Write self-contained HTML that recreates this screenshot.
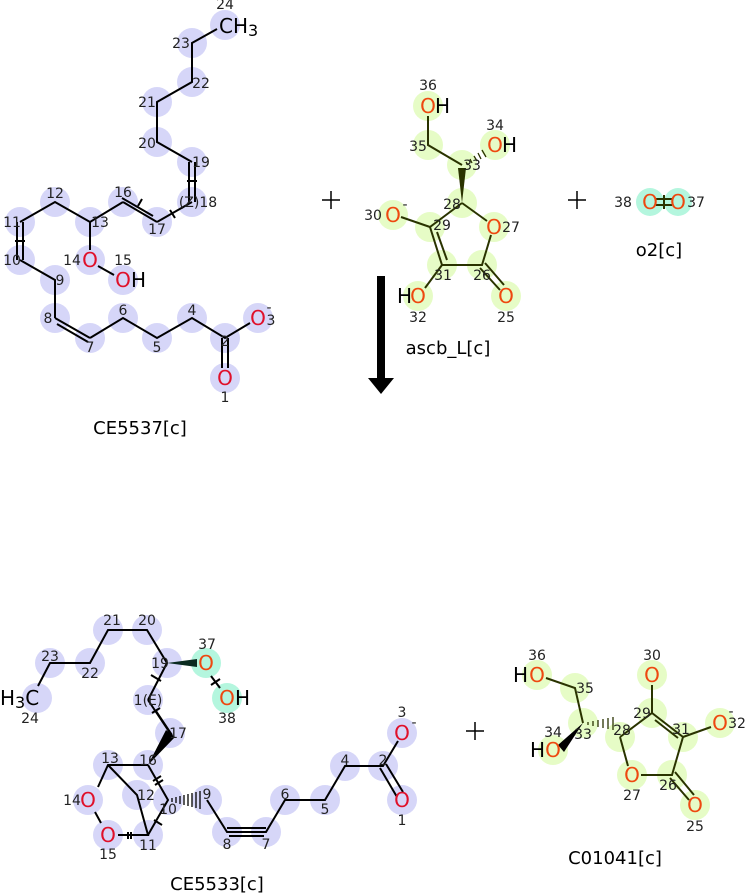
<!DOCTYPE html>
<html><head><meta charset="utf-8"><style>
body{margin:0;background:#fff}
svg{display:block;font-family:"DejaVu Sans","Liberation Sans",sans-serif}
.b{fill:#d6d6f8}.g{fill:#e6fcc6}.c{fill:#b4f6de}
.n{font-size:14px;fill:#222;text-anchor:middle}
.o{font-size:20px;fill:#e0102a;text-anchor:middle}
.oa{font-size:20px;fill:#ee4810;text-anchor:middle}
.h{font-size:20px;fill:#000}
.l{font-size:18px;fill:#000;text-anchor:middle}
</style></head><body>
<svg width="745" height="895" viewBox="0 0 745 895">
<!-- ===== CE5537 top ===== -->
<g class="b">
<circle cx="225" cy="25" r="15"/><circle cx="192" cy="43" r="15"/><circle cx="192" cy="82" r="15"/><circle cx="157" cy="102" r="15"/><circle cx="157" cy="142" r="15"/><circle cx="192" cy="162" r="15"/><circle cx="192" cy="202" r="15"/><circle cx="157" cy="222" r="15"/><circle cx="123" cy="202" r="15"/><circle cx="90" cy="222" r="15"/><circle cx="55" cy="202" r="15"/><circle cx="20" cy="222" r="15"/><circle cx="20" cy="260" r="15"/><circle cx="55" cy="280" r="15"/><circle cx="55" cy="318" r="15"/><circle cx="90" cy="338" r="15"/><circle cx="123" cy="318" r="15"/><circle cx="157" cy="338" r="15"/><circle cx="192" cy="318" r="15"/><circle cx="225" cy="338" r="15"/><circle cx="258" cy="318" r="15"/><circle cx="225" cy="378" r="15"/><circle cx="90" cy="260" r="15"/><circle cx="123" cy="280" r="15"/>
</g>
<g stroke="#000" stroke-width="2" fill="none">
<path d="M217,29 L192,43 L192,82 L157,102 L157,142 L192,162"/>
<path d="M189,162 V202 M195,162 V202 M187,181 H197"/>
<path d="M192,202 L157,222 M170,210 l5,8"/>
<path d="M157,222 L123,202 M153,216 L122,198 M138,206 l4,-7"/>
<path d="M123,202 L90,222 L55,202 L20,222"/>
<path d="M17,222 V260 M23,222 V260 M15,241 H25"/>
<path d="M20,260 L55,280 L55,318"/>
<path d="M55,318 L90,338 M57,324 L88,342"/>
<path d="M90,338 L123,318 L157,338 L192,318 L225,338 L250,323"/>
<path d="M222,338 V368 M228,338 V368"/>
<path d="M90,222 V250 M98,266 L114,275"/>
</g>
<text class="n" x="225" y="9">24</text><text class="h" x="219" y="33">CH<tspan font-size="16" dy="3">3</tspan></text>
<text class="n" x="181" y="48">23</text><text class="n" x="201" y="88">22</text><text class="n" x="147" y="107">21</text><text class="n" x="147" y="148">20</text><text class="n" x="201" y="167">19</text>
<text class="n" x="198" y="207" fill="#334">(Z)18</text><text class="n" x="157" y="234">17</text><text class="n" x="123" y="197">16</text><text class="n" x="100" y="227">13</text><text class="n" x="55" y="198">12</text><text class="n" x="12" y="227">11</text><text class="n" x="12" y="265">10</text><text class="n" x="60" y="285">9</text><text class="n" x="48" y="323">8</text><text class="n" x="90" y="352">7</text><text class="n" x="123" y="315">6</text><text class="n" x="157" y="352">5</text><text class="n" x="192" y="315">4</text><text class="n" x="225" y="346">2</text>
<text class="o" x="258" y="325">O</text><text class="n" x="271" y="325">3</text><text class="n" x="269" y="312">-</text>
<text class="o" x="225" y="385">O</text><text class="n" x="225" y="402">1</text>
<text class="n" x="72" y="265">14</text><text class="o" x="90" y="267">O</text><text class="n" x="123" y="265">15</text><text class="o" x="123" y="287">O</text><text class="h" x="131" y="287">H</text>
<text class="l" x="140" y="434">CE5537[c]</text>

<!-- plus signs -->
<g stroke="#000" stroke-width="1.5"><path d="M322,200 H340 M331,191 V209 M568,200 H586 M577,191 V209 M466,731 H484 M475,722 V740"/></g>

<!-- ===== ascb_L top ===== -->
<g class="g">
<circle cx="428" cy="106" r="15"/><circle cx="428" cy="145" r="15"/><circle cx="462" cy="165" r="15"/><circle cx="495" cy="145" r="15"/><circle cx="462" cy="203" r="15"/><circle cx="494" cy="227" r="15"/><circle cx="482" cy="265" r="15"/><circle cx="442" cy="265" r="15"/><circle cx="430" cy="227" r="15"/><circle cx="393" cy="215" r="15"/><circle cx="418" cy="296" r="15"/><circle cx="506" cy="296" r="15"/>
</g>
<g stroke="#2a3300" stroke-width="2" fill="none">
<path d="M428,116 V145 L462,165"/>
<path d="M462,203 L487,221 M491,235 L482,265 L442,265 L430,227 L462,203"/>
<path d="M437,232 L447,260"/>
<path d="M430,227 L401,217"/>
<path d="M442,265 L425,288"/>
<path d="M480,268 L500,290 M485,263 L504,285"/>
</g>
<polygon points="462,203 458,168 466,168" fill="#2a3300"/>
<g stroke="#2a3300" stroke-width="1.3"><path d="M466,162 l2,3 M470,159 l2,4 M474,156 l3,5 M478,153 l3,6 M482,150 l4,7"/></g>
<text class="n" x="428" y="90">36</text><text class="oa" x="428" y="113">O</text><text class="h" x="435" y="113">H</text>
<text class="n" x="418" y="151">35</text><text class="n" x="495" y="130">34</text><text class="oa" x="495" y="152">O</text><text class="h" x="502" y="152">H</text>
<text class="n" x="472" y="170">33</text><text class="n" x="452" y="209">28</text><text class="oa" x="494" y="234">O</text><text class="n" x="511" y="232">27</text>
<text class="n" x="442" y="230">29</text><text class="n" x="373" y="220">30</text><text class="oa" x="393" y="222">O</text><text class="n" x="405" y="209">-</text>
<text class="n" x="443" y="280">31</text><text class="n" x="482" y="280">26</text>
<text class="h" x="397" y="303">H</text><text class="oa" x="418" y="303">O</text><text class="n" x="418" y="322">32</text>
<text class="oa" x="506" y="303">O</text><text class="n" x="506" y="322">25</text>
<text class="l" x="448" y="354">ascb_L[c]</text>

<!-- arrow -->
<rect x="377" y="276" width="8" height="106" fill="#000"/>
<polygon points="368,378 394,378 381,394" fill="#000"/>

<!-- o2 -->
<circle class="c" cx="650" cy="202" r="14"/><circle class="c" cx="678" cy="202" r="14"/>
<g stroke="#2a3300" stroke-width="2"><path d="M656,199 H672 M656,205 H672 M664,195 V209"/></g>
<text class="n" x="623" y="207">38</text><text class="oa" x="650" y="209">O</text><text class="oa" x="678" y="209">O</text><text class="n" x="696" y="207">37</text>
<text class="l" x="659" y="256">o2[c]</text>

<!-- ===== CE5533 bottom ===== -->
<g class="b">
<circle cx="108" cy="630" r="15"/><circle cx="147" cy="630" r="15"/><circle cx="50" cy="663" r="15"/><circle cx="90" cy="663" r="15"/><circle cx="37" cy="698" r="15"/><circle cx="167" cy="663" r="15"/><circle cx="148" cy="700" r="15"/><circle cx="170" cy="733" r="15"/><circle cx="148" cy="765" r="15"/><circle cx="108" cy="765" r="15"/><circle cx="137" cy="795" r="15"/><circle cx="168" cy="800" r="15"/><circle cx="207" cy="800" r="15"/><circle cx="88" cy="800" r="15"/><circle cx="108" cy="835" r="15"/><circle cx="148" cy="835" r="15"/><circle cx="227" cy="832" r="15"/><circle cx="266" cy="832" r="15"/><circle cx="285" cy="800" r="15"/><circle cx="325" cy="800" r="15"/><circle cx="345" cy="766" r="15"/><circle cx="383" cy="766" r="15"/><circle cx="402" cy="733" r="15"/><circle cx="402" cy="800" r="15"/>
</g>
<circle class="c" cx="206" cy="663" r="15"/><circle class="c" cx="227" cy="698" r="15"/>
<g stroke="#000" stroke-width="2" fill="none">
<path d="M38,686 L50,663 L90,663 L108,630 L147,630 L167,663 L148,700"/>
<path d="M151,675 l10,6 M211,676 L220,688 M211,685 l9,-6"/>
<path d="M148,700 L170,733 M156,711 L172,735"/>
<path d="M152,713 l8,-5"/>
<path d="M148,765 L108,765 L98,787 M95,812 L101,823 M118,835 H148 L137,795 L108,765"/>
<path d="M148,765 L168,800 L148,835"/>
<path d="M153,781 l8,-5 M155,785 l8,-5 M154,820 l8,5 M128,832 v7 M131,832 v7"/>
<path d="M207,800 L227,832 L266,832 L285,800 L325,800 L345,766 L383,766 L398,741"/>
<path d="M227,828 H266 M229,836 H264"/>
<path d="M380,768 L397,797 M386,764 L403,792"/>
</g>
<polygon points="167,663 197,659 197,667" fill="#0a2a20"/>
<polygon points="148,765 166,730 175,737" fill="#000"/>
<g stroke="#000" stroke-width="1.3"><path d="M172,798 v4 M176,797 v6 M180,796 v8 M184,795 v10 M188,794 v12 M192,793 v14 M196,792 v16 M200,791 v18"/></g>
<text class="n" x="112" y="625">21</text><text class="n" x="147" y="625">20</text><text class="n" x="50" y="661">23</text><text class="n" x="90" y="678">22</text>
<text class="h" x="0" y="705">H<tspan font-size="16" dy="3">3</tspan><tspan dy="-3">C</tspan></text><text class="n" x="30" y="723">24</text>
<text class="n" x="160" y="668">19</text><text class="n" x="207" y="649">37</text><text class="oa" x="206" y="670">O</text><text class="oa" x="227" y="705">O</text><text class="h" x="235" y="705">H</text><text class="n" x="227" y="723">38</text>
<text class="n" x="148" y="705" fill="#334">1(E)</text><text class="n" x="178" y="738">17</text><text class="n" x="148" y="765">16</text><text class="n" x="110" y="763">13</text><text class="n" x="146" y="800">12</text><text class="n" x="168" y="814">10</text><text class="n" x="207" y="799">9</text>
<text class="n" x="72" y="805">14</text><text class="o" x="88" y="807">O</text><text class="o" x="108" y="842">O</text><text class="n" x="108" y="859">15</text><text class="n" x="148" y="850">11</text>
<text class="n" x="227" y="849">8</text><text class="n" x="266" y="849">7</text><text class="n" x="285" y="799">6</text><text class="n" x="325" y="814">5</text><text class="n" x="345" y="765">4</text><text class="n" x="383" y="765">2</text>
<text class="n" x="402" y="717">3</text><text class="o" x="402" y="740">O</text><text class="n" x="414" y="727">-</text><text class="o" x="402" y="807">O</text><text class="n" x="402" y="825">1</text>
<text class="l" x="217" y="890">CE5533[c]</text>

<!-- ===== C01041 ===== -->
<g class="g">
<circle cx="537" cy="675" r="15"/><circle cx="575" cy="688" r="15"/><circle cx="583" cy="723" r="15"/><circle cx="553" cy="750" r="15"/><circle cx="620" cy="737" r="15"/><circle cx="652" cy="713" r="15"/><circle cx="652" cy="675" r="15"/><circle cx="683" cy="737" r="15"/><circle cx="720" cy="723" r="15"/><circle cx="632" cy="775" r="15"/><circle cx="672" cy="775" r="15"/><circle cx="695" cy="805" r="15"/>
</g>
<g stroke="#2a3300" stroke-width="2" fill="none">
<path d="M546,678 L575,688 L583,723"/>
<path d="M620,737 L652,713 L683,737 L672,775 L641,775 M628,766 L620,737"/>
<path d="M655,720 L678,738"/>
<path d="M652,713 V685 M683,737 L711,727"/>
<path d="M670,778 L689,800 M675,772 L694,795"/>
</g>
<polygon points="583,723 558,745 564,752" fill="#000"/>
<g stroke="#2a3300" stroke-width="1.3"><path d="M588,722 v3 M593,721 v5 M598,720 v7 M603,719 v9 M608,718 v11 M613,717 v13"/></g>
<text class="n" x="537" y="660">36</text><text class="h" x="513" y="682">H</text><text class="oa" x="537" y="682">O</text>
<text class="n" x="585" y="693">35</text><text class="n" x="583" y="739">33</text><text class="n" x="553" y="737">34</text><text class="h" x="530" y="757">H</text><text class="oa" x="553" y="757">O</text>
<text class="n" x="622" y="735">28</text><text class="n" x="642" y="718">29</text><text class="n" x="652" y="660">30</text><text class="oa" x="652" y="682">O</text>
<text class="n" x="681" y="734">31</text><text class="oa" x="720" y="730">O</text><text class="n" x="737" y="728">32</text><text class="n" x="731" y="716">-</text>
<text class="oa" x="632" y="782">O</text><text class="n" x="632" y="800">27</text><text class="n" x="668" y="790">26</text><text class="oa" x="695" y="812">O</text><text class="n" x="695" y="831">25</text>
<text class="l" x="615" y="864">C01041[c]</text>
</svg>
</body></html>
